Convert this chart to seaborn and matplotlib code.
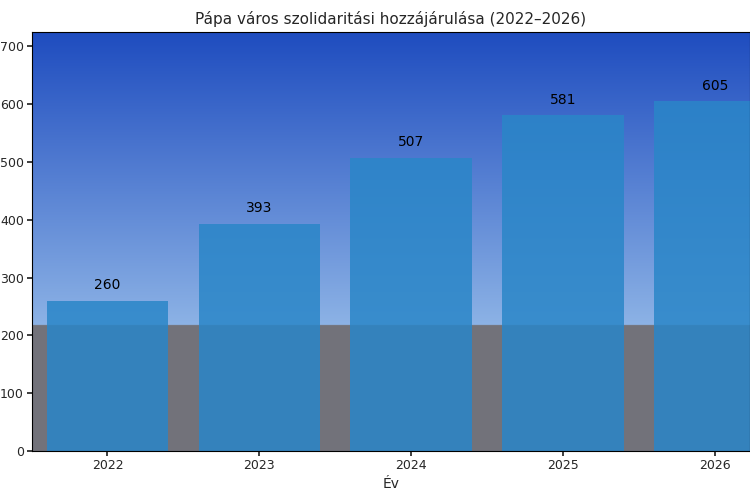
import numpy as np
import pandas as pd
import seaborn as sns
import matplotlib.pyplot as plt

years = ['2022', '2023', '2024', '2025', '2026']
values = [260, 393, 507, 581, 605]

df = pd.DataFrame({'ev': years, 'ertek': values})

sns.set_theme(style='white')
plt.rcParams['font.family'] = ['DejaVu Sans']

fig = plt.figure(figsize=(7.5, 5), dpi=100)
ax = fig.add_axes([0.042, 0.098, 0.958, 0.838])

# background: rough stand-in for the town square photo (sky to pavement)
sky = np.linspace(0, 1, 256)
top = np.array([0.12, 0.30, 0.75])
mid = np.array([0.55, 0.70, 0.90])
ground = np.array([0.45, 0.45, 0.48])
rows = []
for t in sky:
    if t < 0.7:
        c = top + (mid - top) * (t / 0.7)
    else:
        c = ground
    rows.append(c)
bg = np.array(rows)[:, None, :].repeat(2, axis=1)
ax.imshow(bg, extent=[-0.5, 4.23, 0, 725], aspect='auto', zorder=0)

sns.barplot(data=df, x='ev', y='ertek', color='#2a86c8', alpha=0.85,
            width=0.8, saturation=1, edgecolor='none', linewidth=0, ax=ax, zorder=2)
for i, v in enumerate(values):
    ax.text(i, v + 15, str(v), ha='center', va='bottom', fontsize=10, color='black', zorder=3)

ax.set_xlim(-0.5, 4.23)
ax.set_ylim(0, 725)
ax.set_title('Pápa város szolidaritási hozzájárulása (2022–2026)', fontsize=11)
ax.set_xlabel('Év', fontsize=10)
ax.set_ylabel('')
ax.tick_params(axis='both', labelsize=9, length=3.5, pad=2, left=True, bottom=True)
for s in ax.spines.values():
    s.set_color('black')
    s.set_linewidth(0.8)

fig.savefig('out.png', dpi=100)
